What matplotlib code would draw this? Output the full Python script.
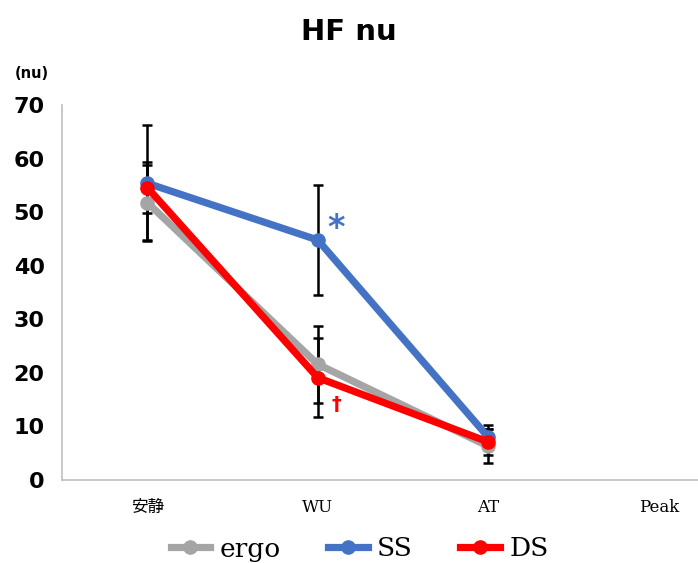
import matplotlib
matplotlib.use("Agg")
import matplotlib.pyplot as plt
from matplotlib.lines import Line2D

# Phases of the exercise protocol
phases = ["安静", "WU", "AT", "Peak"]

# HF nu means and SD for each group (Peak not measured)
ergo_mean = [51.8, 21.6, 6.3]
ergo_sd = [7.0, 7.2, 3.2]
ss_mean = [55.4, 44.8, 8.0]
ss_sd = [10.8, 10.3, 2.3]
ds_mean = [54.6, 19.1, 7.1]
ds_sd = [4.7, 7.4, 2.4]

series = [
    ("ergo", ergo_mean, ergo_sd, "#A5A5A5"),
    ("SS", ss_mean, ss_sd, "#4472C4"),
    ("DS", ds_mean, ds_sd, "#FF0000"),
]

fig = plt.figure(figsize=(6.98, 5.63), dpi=100)
ax = fig.add_axes([62 / 698, 1 - 480 / 563, 682 / 698, 375 / 563])

x = list(range(3))
for i, (name, m, sd, col) in enumerate(series):
    ax.errorbar(x, m, yerr=sd, fmt="none", ecolor="black", elinewidth=1.8,
                capsize=3.5, capthick=1.8, zorder=2)
for i, (name, m, sd, col) in enumerate(series):
    ax.plot(x, m, color=col, lw=5.2, marker="o", ms=9.5,
            solid_capstyle="round", zorder=3 + i)

ax.set_xlim(-0.5, 3.5)
ax.set_ylim(0, 70)
ax.set_yticks(range(0, 71, 10))
ax.set_xticks(range(len(phases)))
ax.set_xticklabels(phases, family=["DejaVu Serif", "Noto Sans CJK JP"],
                   fontsize=12)
for lab in ax.get_yticklabels():
    lab.set_fontweight("bold")
    lab.set_fontsize(16)
ax.tick_params(axis="both", length=0)
ax.tick_params(axis="x", pad=14)
ax.tick_params(axis="y", pad=12.5)

for s in ["top", "right"]:
    ax.spines[s].set_visible(False)
ax.spines["left"].set_color("#BFBFBF")
ax.spines["bottom"].set_color("#BFBFBF")
ax.spines["left"].set_linewidth(1.2)
ax.spines["bottom"].set_linewidth(1.2)

# significance marks
ax.text(1.11, 47.0, "*", color="#4472C4", fontsize=24, ha="center",
        va="center", fontweight="bold")
ax.text(1.11, 14.0, "†", color="#FF0000", fontsize=14, ha="center",
        va="center", fontweight="bold")

fig.text(0.5, 1 - 32 / 563, "HF nu", ha="center", va="center",
         fontsize=21, fontweight="bold")
fig.text(32 / 698, 1 - 73 / 563, "(nu)", ha="center", va="center",
         fontsize=10.5, fontweight="bold")

handles = [Line2D([], [], color=c, lw=5.2, marker="o", ms=9.5)
           for _, _, _, c in series]
fig.legend(handles, [s[0] for s in series], loc="center",
           bbox_to_anchor=(0.515, 1 - 549 / 563), ncol=3, frameon=False,
           prop={"family": "DejaVu Serif", "size": 19},
           handlelength=1.5, handletextpad=0.35, columnspacing=1.8)

fig.savefig("out.png", dpi=100)
